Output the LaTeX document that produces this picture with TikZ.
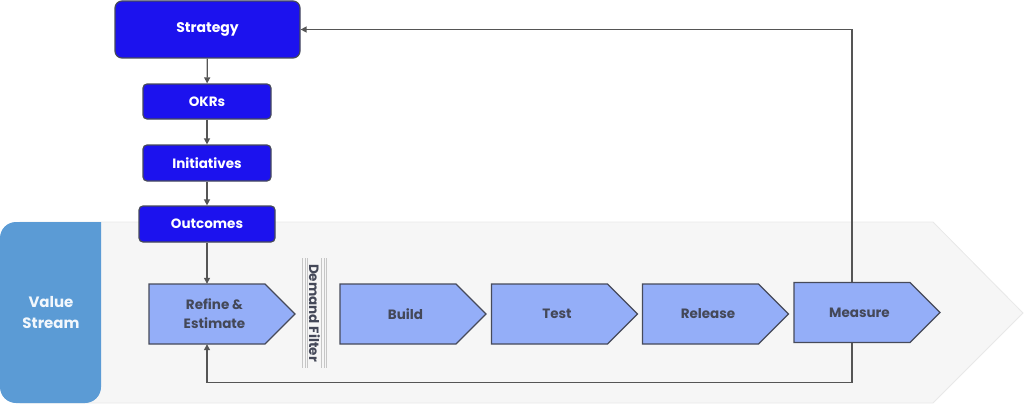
\documentclass[tikz,border=0pt]{standalone}
\usepackage{fontspec}
\setmainfont{Poppins}
\usetikzlibrary{arrows.meta,calc}
\definecolor{stratblue}{RGB}{28,18,238}
\definecolor{chevfill}{RGB}{148,174,248}
\definecolor{edgegray}{RGB}{70,74,90}
\definecolor{chevtext}{RGB}{68,72,88}
\definecolor{panelblue}{RGB}{91,155,213}
\definecolor{bggray}{RGB}{246,246,246}
\definecolor{bgedge}{RGB}{232,232,232}
\definecolor{linegray}{RGB}{85,85,85}
\begin{document}
\begin{tikzpicture}[x=1pt,y=-1pt,
  topbox/.style={draw=edgegray,line width=1.2pt,fill=stratblue,text=white,font=\bfseries\fontsize{13.5}{15}\selectfont,rounded corners=4pt,inner sep=0pt},
  chevbody/.style={minimum width=116pt,minimum height=60pt,inner sep=0pt,text=chevtext,font=\bfseries\fontsize{13.5}{19}\selectfont,align=center},
  chevshape/.style={draw=edgegray,line width=1.2pt,fill=chevfill},
  flow/.style={draw=linegray,line width=1.3pt,-{Triangle[length=6pt,width=6pt]}}
]
\useasboundingbox (0,0) rectangle (1024,404);
% background arrow
\fill[bggray,draw=bgedge,line width=0.8pt] (20,222) -- (933,222) -- (1023,313) -- (933,403) -- (20,403) -- cycle;
% left panel
\fill[panelblue,rounded corners=16pt] (101,222) -- (0,222) -- (0,403) -- (101,403) [sharp corners] -- cycle;
\node[text=white!92!panelblue,font=\bfseries\fontsize{15}{21}\selectfont,align=center] (vs) at (51,313) {Value\\Stream};
% top boxes
\node[topbox,minimum width=185pt,minimum height=57pt,rounded corners=7pt,font=\bfseries\fontsize{14}{16}\selectfont] (strategy) at (207.5,29.5) {Strategy};
\node[topbox,minimum width=128pt,minimum height=35pt] (okrs) at (207,101.5) {OKRs};
\node[topbox,minimum width=128pt,minimum height=36pt] (init) at (207,163) {Initiatives};
\node[topbox,minimum width=136pt,minimum height=36pt] (outc) at (207,224) {Outcomes};
% chevrons
\foreach \nm/\cx/\cy/\txt in {refine/207/314/{Refine \&\\\hspace*{15pt}Estimate}, build/398/314/Build, test/549.5/314/Test, release/700.5/314/Release, measure/852/312.5/Measure}{
  \path[chevshape] (\cx-58,\cy-30) -- (\cx+58,\cy-30) -- (\cx+88,\cy) -- (\cx+58,\cy+30) -- (\cx-58,\cy+30) -- cycle;
  \node[chevbody] (\nm) at (\cx,\cy) {\hspace*{15pt}\txt};
}
% demand filter
\foreach \xx in {302.5,305,307.5,321.5,324,326.5}{
  \draw[gray!45,line width=0.5pt] (\xx,258) -- (\xx,368);
}
\node[rotate=-90,text=chevtext,font=\bfseries\fontsize{13.5}{15}\selectfont,fill=bggray,inner xsep=1pt,inner ysep=0.5pt] (df) at (314.5,313) {Demand Filter};
% arrows
\draw[flow] (strategy) -- (okrs);
\draw[flow] (okrs) -- (init);
\draw[flow] (init) -- (outc);
\draw[flow] (outc) -- (refine);
\draw[flow] (measure.north) |- (strategy.east);
\draw[flow] (measure.south) -- ++(0,40) -| (refine.south);
\end{tikzpicture}
\end{document}
